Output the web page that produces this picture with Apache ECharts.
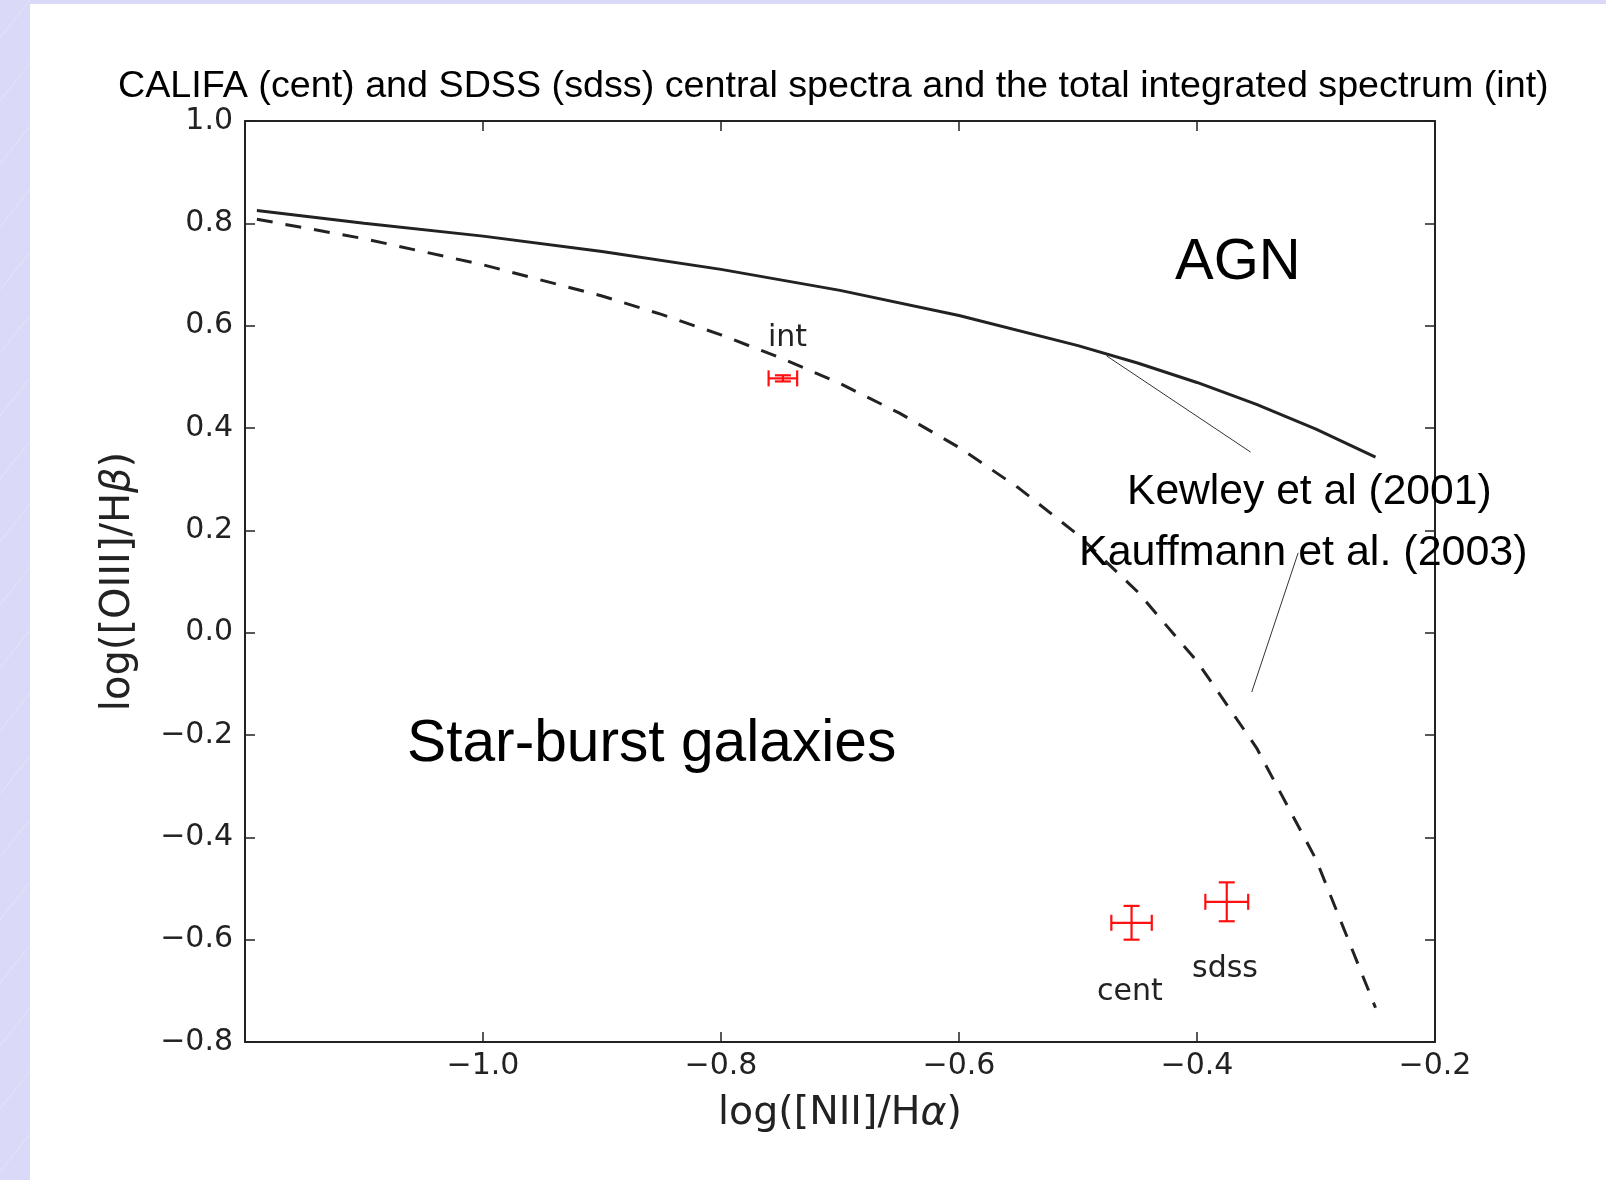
<!DOCTYPE html>
<html>
<head>
<meta charset="utf-8">
<script src="https://cdn.jsdelivr.net/npm/echarts@6/dist/echarts.min.js"></script>
<style>
html,body{margin:0;padding:0;background:#dadaf8;}
#chart{width:1606px;height:1180px;}
</style>
</head>
<body>
<div id="chart"></div>
<script>
// ---- data ----
const xTicks = [-1.0, -0.8, -0.6, -0.4, -0.2];
const yTicks = [1.0, 0.8, 0.6, 0.4, 0.2, 0.0, -0.2, -0.4, -0.6, -0.8];

// Kewley et al (2001) solid curve
const kewleyX = [-1.19, -1.1, -1.0, -0.9, -0.8, -0.7, -0.6, -0.5, -0.45, -0.4, -0.35, -0.3, -0.25];
const kewleyY = [0.825, 0.80, 0.775, 0.745, 0.71, 0.669, 0.62, 0.561, 0.527, 0.489, 0.446, 0.398, 0.343];

// Kauffmann et al. (2003) dashed curve
const kauffX = [-1.19, -1.1, -1.0, -0.9, -0.85, -0.8, -0.75, -0.7, -0.65, -0.6, -0.55, -0.5, -0.45, -0.4, -0.35, -0.3, -0.25];
const kauffY = [0.808, 0.77, 0.719, 0.658, 0.622, 0.582, 0.537, 0.487, 0.429, 0.362, 0.283, 0.191, 0.08, -0.056, -0.225, -0.443, -0.733];

// measured points with error bars
const pointNames = ['int', 'cent', 'sdss'];
const pointX = [-0.748, -0.455, -0.375];
const pointY = [0.497, -0.567, -0.526];
const errX = [0.012, 0.017, 0.018];
const errY = [0.006, 0.033, 0.038];

// annotation pointer lines (data coords)
const kewleyPointerX = [-0.476, -0.355];
const kewleyPointerY = [0.541, 0.353];
const kauffPointerX = [-0.315, -0.354];
const kauffPointerY = [0.156, -0.116];

const titleText = 'CALIFA (cent) and SDSS (sdss) central spectra and the total integrated spectrum (int)';

// ---- chart ----
const chart = echarts.init(document.getElementById('chart'), null, {renderer: 'canvas'});

const fmt = v => {
  const s = (Math.round(v * 10) / 10).toFixed(1);
  return s.replace('-', '\u2212');
};
const SANS = 'DejaVu Sans';
const ARIAL = 'Liberation Sans';
const GL = 245, GT = 121, GR = 1435, GB = 1042;

const pairs = (xs, ys) => xs.map((x, i) => [x, ys[i]]);

const bg = [];
bg.push({type: 'rect', shape: {x: 0, y: 0, width: 1606, height: 1180}, style: {fill: '#dadaf8'}, z: -10, silent: true});
for (let k = -2; k < 30; k++) {
  const y0 = k * 63;
  bg.push({type: 'line', shape: {x1: 0, y1: y0 + 38, x2: 30, y2: y0}, style: {stroke: '#e4e4fb', lineWidth: 1}, z: -9, silent: true});
}
bg.push({type: 'rect', shape: {x: 30, y: 4, width: 1576, height: 1176}, style: {fill: '#ffffff'}, z: -8, silent: true});

const texts = [
  {t: titleText, x: 118, y: 87, font: `37.7px "${ARIAL}"`},
  {t: 'AGN', x: 1175, y: 263, font: `58px "${ARIAL}"`},
  {t: 'Star-burst galaxies', x: 407, y: 745, font: `58.7px "${ARIAL}"`},
  {t: 'Kewley et al (2001)', x: 1127, y: 492, font: `42.6px "${ARIAL}"`},
  {t: 'Kauffmann et al. (2003)', x: 1079, y: 553, font: `43px "${ARIAL}"`},
  {t: 'int', x: 768, y: 338.5, font: `30px "${SANS}"`, c: '#222'},
  {t: 'cent', x: 1097, y: 992.5, font: `30px "${SANS}"`, c: '#222'},
  {t: 'sdss', x: 1192, y: 969.5, font: `30px "${SANS}"`, c: '#222'}
];
texts.forEach(o => bg.push({
  type: 'text', x: o.x, y: o.y, z: 50,
  style: {text: o.t, font: o.font, fill: o.c || '#000', align: 'left', verticalAlign: 'middle'}
}));

const axisCommon = {
  type: 'value',
  splitLine: {show: false},
  axisLine: {show: true, onZero: false, lineStyle: {color: '#222', width: 2}},
  axisTick: {show: true, inside: true, length: 10, lineStyle: {color: '#222', width: 1.5}},
};

const option = {
  animation: false,
  backgroundColor: 'transparent',
  graphic: bg,
  grid: {left: GL, top: GT, width: GR - GL, height: GB - GT, containLabel: false},
  xAxis: [
    Object.assign({}, axisCommon, {
      position: 'bottom', min: -1.2, max: -0.2, interval: 0.2,
      axisLabel: {
        show: true, margin: 9, color: '#222', fontFamily: SANS, fontSize: 30,
        formatter: v => (Math.abs(v + 1.2) < 1e-6 ? '' : fmt(v))
      },
      name: 'log([NII]/H{i|α})', nameLocation: 'middle', nameGap: 52,
      nameTextStyle: {
        fontFamily: SANS, fontSize: 39.5, color: '#222',
        rich: {i: {fontFamily: SANS, fontSize: 39.5, fontStyle: 'italic', color: '#222'}}
      }
    }),
    Object.assign({}, axisCommon, {
      position: 'top', min: -1.2, max: -0.2, interval: 0.2, axisLabel: {show: false}
    })
  ],
  yAxis: [
    Object.assign({}, axisCommon, {
      position: 'left', min: -0.8, max: 1.0, interval: 0.2,
      axisLabel: {show: true, margin: 12, color: '#222', fontFamily: SANS, fontSize: 30, padding: [4, 0, 0, 0], formatter: v => fmt(v)},
      name: 'log([OIII]/H{i|β})', nameLocation: 'middle', nameGap: 106, nameRotate: 90,
      nameTextStyle: {
        fontFamily: SANS, fontSize: 40, color: '#222',
        rich: {i: {fontFamily: SANS, fontSize: 40, fontStyle: 'italic', color: '#222'}}
      }
    }),
    Object.assign({}, axisCommon, {
      position: 'right', min: -0.8, max: 1.0, interval: 0.2, axisLabel: {show: false}
    })
  ],
  series: [
    {
      name: 'Kewley et al (2001)', type: 'line', xAxisIndex: 0, yAxisIndex: 0,
      data: pairs(kewleyX, kewleyY), showSymbol: false, symbol: 'none',
      lineStyle: {color: '#222', width: 3}, z: 5
    },
    {
      name: 'Kauffmann et al. (2003)', type: 'line', xAxisIndex: 0, yAxisIndex: 0,
      data: pairs(kauffX, kauffY), showSymbol: false, symbol: 'none',
      lineStyle: {color: '#222', width: 3, type: [16, 13]}, z: 5
    },
    {
      type: 'line', data: pairs(kewleyPointerX, kewleyPointerY), showSymbol: false, symbol: 'none',
      lineStyle: {color: '#333', width: 1}, z: 4
    },
    {
      type: 'line', data: pairs(kauffPointerX, kauffPointerY), showSymbol: false, symbol: 'none',
      lineStyle: {color: '#333', width: 1}, z: 4
    },
    {
      name: 'points', type: 'custom', xAxisIndex: 0, yAxisIndex: 0, z: 6,
      data: pointNames.map((n, i) => [pointX[i], pointY[i], errX[i], errY[i]]),
      renderItem: function (params, api) {
        const x = api.value(0), y = api.value(1), ex = api.value(2), ey = api.value(3);
        const l = api.coord([x - ex, y]), r = api.coord([x + ex, y]);
        const t = api.coord([x, y + ey]), b = api.coord([x, y - ey]);
        const cap = 8;
        const st = {stroke: '#ff1010', lineWidth: 2.2, fill: null};
        const L = (x1, y1, x2, y2) => ({type: 'line', shape: {x1, y1, x2, y2}, style: st});
        return {
          type: 'group',
          children: [
            L(l[0], l[1], r[0], r[1]),
            L(l[0], l[1] - cap, l[0], l[1] + cap),
            L(r[0], r[1] - cap, r[0], r[1] + cap),
            L(t[0], t[1], b[0], b[1]),
            L(t[0] - cap, t[1], t[0] + cap, t[1]),
            L(b[0] - cap, b[1], b[0] + cap, b[1])
          ]
        };
      }
    }
  ]
};
chart.setOption(option);
</script>
</body>
</html>
